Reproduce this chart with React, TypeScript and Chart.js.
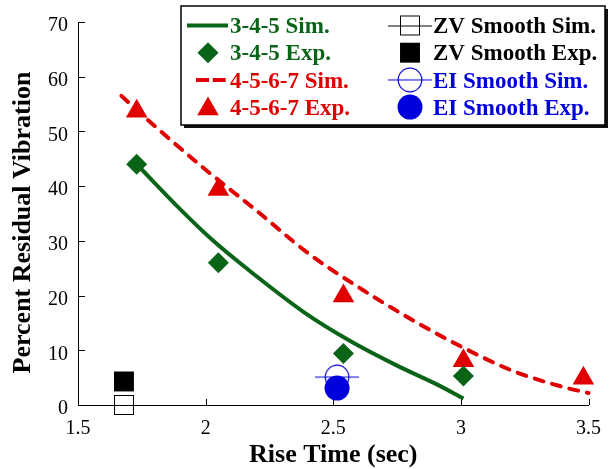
import React, { useEffect, useRef } from 'react';
import { Chart, registerables } from 'chart.js';
import { drawPoint } from 'chart.js/helpers';

Chart.register(...registerables);

// ---------- colours ----------
const GREEN = '#0a6418';
const RED = '#e00000';
const BLUE = '#0000dc';
const BLACK = '#000000';

// ---------- data ----------
const seriesNames = [
  '3-4-5 Sim.',
  '3-4-5 Exp.',
  '4-5-6-7 Sim.',
  '4-5-6-7 Exp.',
  'ZV Smooth Sim.',
  'ZV Smooth Exp.',
  'EI Smooth Sim.',
  'EI Smooth Exp.',
];

const sim345X = [1.73, 1.9, 2.03, 2.2, 2.39, 2.57, 2.75, 2.9, 3.01];
const sim345Y = [44, 35.8, 30, 23.5, 16.8, 11.6, 7.2, 3.9, 1.2];

const exp345X = [1.73, 2.05, 2.54, 3.01];
const exp345Y = [44, 26, 9.4, 5.3];

const sim4567X = [1.67, 1.8, 2.0, 2.2, 2.4, 2.6, 2.8, 3.0, 3.2, 3.4, 3.5];
const sim4567Y = [56.5, 51, 43, 35.5, 27.8, 21.5, 15.8, 10.7, 6.3, 3.3, 2.2];

const exp4567X = [1.73, 2.05, 2.54, 3.01, 3.48];
const exp4567Y = [53.7, 39.4, 19.9, 8.1, 4.9];

const zvSimX = [1.68];
const zvSimY = [0];
const zvExpX = [1.68];
const zvExpY = [4.3];

const eiSimX = [2.515];
const eiSimY = [5.1];
const eiExpX = [2.515];
const eiExpY = [3.1];

const xTickValues = [1.5, 2, 2.5, 3, 3.5];
const yTickValues = [0, 10, 20, 30, 40, 50, 60, 70];

const xTitle = 'Rise Time (sec)';
const yTitle = 'Percent Residual Vibration';

const textColors = [GREEN, GREEN, RED, RED, BLACK, BLACK, BLUE, BLUE];

// ---------- helpers ----------
const pts = (xs: number[], ys: number[]) => xs.map((x, i) => ({ x, y: ys[i] }));

function makeSquareWithLine(): HTMLCanvasElement {
  const c = document.createElement('canvas');
  c.width = 44;
  c.height = 22;
  const g = c.getContext('2d')!;
  g.strokeStyle = BLACK;
  g.lineWidth = 1;
  g.beginPath();
  g.moveTo(0, 11.5);
  g.lineTo(44, 11.5);
  g.stroke();
  g.strokeRect(12.5, 1.5, 19, 19);
  return c;
}

function makeCircleWithLine(): HTMLCanvasElement {
  const c = document.createElement('canvas');
  c.width = 44;
  c.height = 26;
  const g = c.getContext('2d')!;
  g.strokeStyle = BLUE;
  g.lineWidth = 1.2;
  g.beginPath();
  g.moveTo(0, 13);
  g.lineTo(44, 13);
  g.stroke();
  g.beginPath();
  g.arc(22, 13, 11.8, 0, Math.PI * 2);
  g.stroke();
  return c;
}

const FONT = '"Liberation Serif", "Times New Roman", serif';

// inward tick marks + y-axis title
const innerTicks = {
  id: 'innerTicks',
  beforeDatasetsDraw(chart: any) {
    const ctx = chart.ctx;
    const xs = chart.scales.x;
    const ys = chart.scales.y;
    ctx.save();
    ctx.strokeStyle = BLACK;
    ctx.lineWidth = 1;
    ctx.beginPath();
    xs.ticks.forEach((t: any) => {
      const px = Math.round(xs.getPixelForValue(t.value)) + 0.5;
      ctx.moveTo(px, xs.top);
      ctx.lineTo(px, xs.top - 6);
    });
    ys.ticks.forEach((t: any) => {
      const py = Math.round(ys.getPixelForValue(t.value)) + 0.5;
      ctx.moveTo(ys.right, py);
      ctx.lineTo(ys.right + 7, py);
    });
    ctx.stroke();

    // y title, centred slightly below the plot's middle as in the reference
    ctx.translate(23, (ys.top + ys.bottom) / 2 + 9);
    ctx.rotate(-Math.PI / 2);
    ctx.font = `bold 26px ${FONT}`;
    ctx.fillStyle = BLACK;
    ctx.textAlign = 'center';
    ctx.textBaseline = 'middle';
    ctx.fillText(yTitle, 0, 0);
    ctx.restore();
  },
};

// boxed two-column legend
const boxLegend = {
  id: 'boxLegend',
  afterDraw(chart: any) {
    const ctx = chart.ctx;
    const ds = chart.data.datasets;
    const left = 181, top = 6, w = 424, h = 119;
    ctx.save();
    ctx.fillStyle = '#111';
    ctx.fillRect(left + 3, top + 3, w, h);
    ctx.fillStyle = '#fff';
    ctx.fillRect(left, top, w, h);
    ctx.strokeStyle = BLACK;
    ctx.lineWidth = 1.5;
    ctx.strokeRect(left, top, w, h);

    const rowY0 = 25.5;
    const rowStep = 27.2;
    const cols = [
      { idx: [0, 1, 2, 3], sx1: 187, sx2: 228, mx: 208, tx: 230 },
      { idx: [4, 5, 6, 7], sx1: 388, sx2: 431, mx: 410, tx: 433 },
    ];
    ctx.font = `bold 23px ${FONT}`;
    ctx.textBaseline = 'alphabetic';
    ctx.textAlign = 'left';
    cols.forEach((col) => {
      col.idx.forEach((di, r) => {
        const d = ds[di];
        const y = rowY0 + r * rowStep;
        if (d.showLine) {
          ctx.save();
          ctx.strokeStyle = d.borderColor;
          ctx.lineWidth = d.borderWidth;
          ctx.beginPath();
          if (d.borderDash && d.borderDash.length) {
            ctx.setLineDash([13, 3.7]);
            ctx.moveTo(196, y);
            ctx.lineTo(226, y);
          } else {
            ctx.moveTo(col.sx1, y);
            ctx.lineTo(col.sx2, y);
          }
          ctx.stroke();
          ctx.restore();
        } else {
          ctx.save();
          ctx.fillStyle = d.backgroundColor;
          ctx.strokeStyle = d.borderColor;
          const dy = d.pointStyle === 'triangle' ? 2 : 0;
          drawPoint(ctx, {
            pointStyle: d.pointStyle,
            radius: d.pointRadius,
            rotation: 0,
            borderWidth: 0,
          } as any, col.mx, y + dy);
          ctx.restore();
        }
        ctx.fillStyle = textColors[di];
        ctx.fillText(d.label, col.tx, y + 7.6);
      });
    });
    ctx.restore();
  },
};

export default function App() {
  const ref = useRef<HTMLCanvasElement>(null);

  useEffect(() => {
    if (!ref.current) return;
    const squareLine = makeSquareWithLine();
    const circleLine = makeCircleWithLine();

    const chart = new Chart(ref.current, {
      type: 'scatter',
      data: {
        datasets: [
          {
            label: seriesNames[0],
            data: pts(sim345X, sim345Y),
            showLine: true,
            borderColor: GREEN,
            backgroundColor: GREEN,
            borderWidth: 4,
            pointRadius: 0,
            cubicInterpolationMode: 'monotone',
            order: 2,
            clip: false,
          } as any,
          {
            label: seriesNames[1],
            data: pts(exp345X, exp345Y),
            showLine: false,
            pointStyle: 'rectRot',
            pointRadius: 10.5,
            pointBorderWidth: 0,
            borderColor: GREEN,
            backgroundColor: GREEN,
            order: 1,
            clip: false,
          },
          {
            label: seriesNames[2],
            data: pts(sim4567X, sim4567Y),
            showLine: true,
            borderColor: RED,
            backgroundColor: RED,
            borderWidth: 4,
            borderDash: [9, 9],
            borderCapStyle: 'round',
            pointRadius: 0,
            cubicInterpolationMode: 'monotone',
            order: 2,
            clip: false,
          } as any,
          {
            label: seriesNames[3],
            data: pts(exp4567X, exp4567Y),
            showLine: false,
            pointStyle: 'triangle',
            pointRadius: 12.5,
            pointBorderWidth: 0,
            borderColor: RED,
            backgroundColor: RED,
            order: 1,
            clip: false,
          },
          {
            label: seriesNames[4],
            data: pts(zvSimX, zvSimY),
            showLine: false,
            pointStyle: squareLine,
            pointRadius: 10,
            borderColor: BLACK,
            backgroundColor: BLACK,
            order: 1,
            clip: false,
          } as any,
          {
            label: seriesNames[5],
            data: pts(zvExpX, zvExpY),
            showLine: false,
            pointStyle: 'rect',
            pointRadius: 14.1,
            pointBorderWidth: 0,
            borderColor: BLACK,
            backgroundColor: BLACK,
            order: 0,
            clip: false,
          },
          {
            label: seriesNames[6],
            data: pts(eiSimX, eiSimY),
            showLine: false,
            pointStyle: circleLine,
            pointRadius: 12,
            borderColor: BLUE,
            backgroundColor: BLUE,
            order: 1,
            clip: false,
          } as any,
          {
            label: seriesNames[7],
            data: pts(eiExpX, eiExpY),
            showLine: false,
            pointStyle: 'circle',
            pointRadius: 12.5,
            pointBorderWidth: 0,
            borderColor: BLUE,
            backgroundColor: BLUE,
            order: 0,
            clip: false,
          },
        ],
      },
      options: {
        animation: false,
        responsive: false,
        maintainAspectRatio: false,
        devicePixelRatio: 1,
        layout: { padding: { top: 19, right: 16, left: 0, bottom: 0 } },
        plugins: {
          legend: { display: false },
          tooltip: { enabled: false },
        },
        scales: {
          x: {
            type: 'linear',
            min: xTickValues[0],
            max: xTickValues[xTickValues.length - 1],
            afterBuildTicks: (s: any) => {
              s.ticks = xTickValues.map((v) => ({ value: v }));
            },
            afterFit: (s: any) => {
              s.height = 64;
            },
            grid: { display: false, drawTicks: false },
            border: { display: true, color: BLACK, width: 1 },
            ticks: {
              color: BLACK,
              padding: 12,
              font: { family: FONT, size: 20 },
              callback: (v: any) => String(v),
            },
            title: {
              display: true,
              text: xTitle,
              color: BLACK,
              padding: { top: 0, bottom: -2 },
              font: { family: FONT, size: 26, weight: 'bold' },
            },
          },
          y: {
            type: 'linear',
            min: yTickValues[0],
            max: yTickValues[yTickValues.length - 1],
            afterBuildTicks: (s: any) => {
              s.ticks = yTickValues.map((v) => ({ value: v }));
            },
            afterFit: (s: any) => {
              s.width = 78;
            },
            grid: { display: false, drawTicks: false },
            border: { display: true, color: BLACK, width: 1 },
            ticks: {
              color: BLACK,
              padding: 10,
              labelOffset: 4,
              font: { family: FONT, size: 20 },
              callback: (v: any) => String(v),
            },
            title: { display: false },
          },
        },
      } as any,
      plugins: [innerTicks, boxLegend],
    });

    return () => chart.destroy();
  }, []);

  return (
    <div style={{ position: 'fixed', left: 0, top: 0, width: 613, height: 469, background: '#fff' }}>
      <canvas ref={ref} width={613} height={469} style={{ width: 613, height: 469, display: 'block' }} />
    </div>
  );
}
